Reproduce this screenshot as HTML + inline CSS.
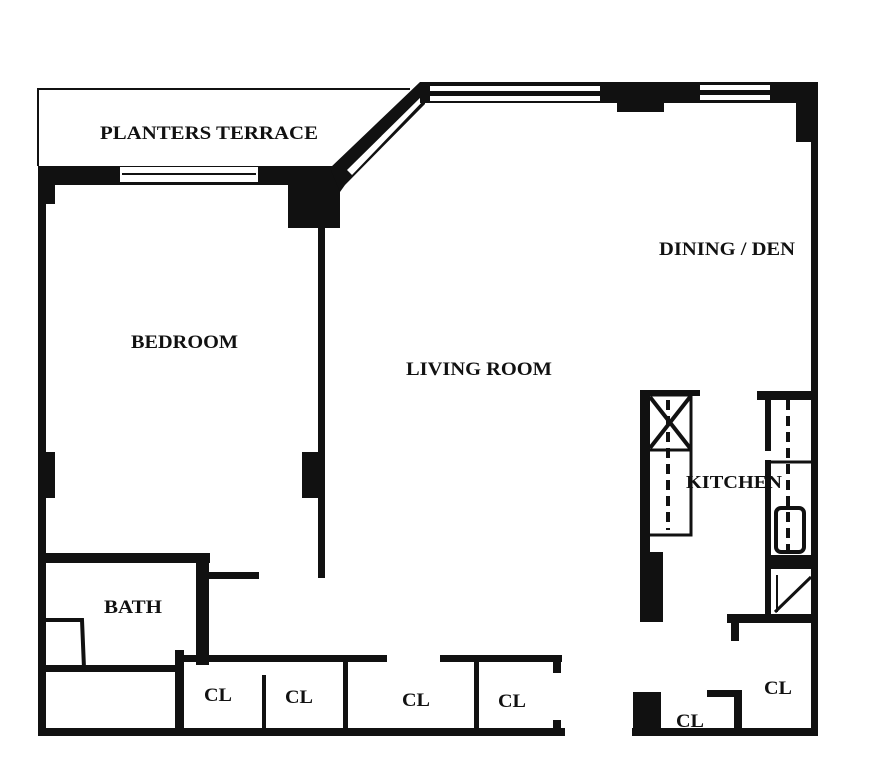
<!DOCTYPE html>
<html><head><style>html,body{margin:0;padding:0;background:#fff}svg{display:block}text{font-family:"Liberation Serif",serif;font-weight:bold;fill:#111}</style></head>
<body>
<svg width="886" height="768" viewBox="0 0 886 768">
<rect width="886" height="768" fill="#fff"/>
<polyline points="38,166 38,89 410,89" fill="none" stroke="#111" stroke-width="2"/>
<rect x="38" y="166" width="300" height="19" fill="#111"/>
<rect x="120" y="167" width="138" height="15" fill="#fff"/>
<line x1="122" y1="174" x2="256" y2="174" stroke="#111" stroke-width="2"/>
<rect x="38" y="166" width="17" height="38" fill="#111"/>
<rect x="288" y="170" width="52" height="58" fill="#111"/>
<rect x="318" y="225" width="7" height="353" fill="#111"/>
<polygon points="330,168 420,82 425,82 425,104 345,185 340,192" fill="#111"/>
<polygon points="347,170 425,93 425,99 352,175" fill="#fff"/>
<rect x="420" y="82" width="398" height="21" fill="#111"/>
<rect x="430" y="86" width="170" height="5" fill="#fff"/>
<rect x="430" y="96" width="170" height="5" fill="#fff"/>
<rect x="700" y="85" width="70" height="5" fill="#fff"/>
<rect x="700" y="95" width="70" height="5" fill="#fff"/>
<rect x="617" y="100" width="47" height="12" fill="#111"/>
<rect x="796" y="82" width="22" height="60" fill="#111"/>
<rect x="811" y="82" width="7" height="654" fill="#111"/>
<rect x="38" y="166" width="8" height="570" fill="#111"/>
<rect x="38" y="452" width="17" height="46" fill="#111"/>
<rect x="302" y="452" width="20" height="46" fill="#111"/>
<rect x="38" y="553" width="172" height="10" fill="#111"/>
<rect x="196" y="553" width="13" height="112" fill="#111"/>
<rect x="209" y="572" width="50" height="7" fill="#111"/>
<polyline points="46,620 82,620 84,668" fill="none" stroke="#111" stroke-width="4"/>
<rect x="46" y="665" width="135" height="7" fill="#111"/>
<rect x="175" y="650" width="9" height="86" fill="#111"/>
<rect x="175" y="655" width="212" height="7" fill="#111"/>
<rect x="440" y="655" width="122" height="7" fill="#111"/>
<rect x="262" y="675" width="4" height="60" fill="#111"/>
<rect x="343" y="660" width="5" height="75" fill="#111"/>
<rect x="474" y="660" width="5" height="75" fill="#111"/>
<rect x="553" y="655" width="8" height="18" fill="#111"/>
<rect x="553" y="720" width="8" height="16" fill="#111"/>
<rect x="38" y="728" width="527" height="8" fill="#111"/>
<rect x="640" y="390" width="10" height="232" fill="#111"/>
<rect x="640" y="552" width="23" height="70" fill="#111"/>
<rect x="640" y="390" width="60" height="6" fill="#111"/>
<rect x="648" y="395" width="43" height="140" fill="none" stroke="#111" stroke-width="3"/>
<line x1="648" y1="450" x2="691" y2="450" stroke="#111" stroke-width="3"/>
<line x1="650" y1="397" x2="690" y2="448" stroke="#111" stroke-width="4"/>
<line x1="690" y1="397" x2="650" y2="448" stroke="#111" stroke-width="4"/>
<line x1="668" y1="400" x2="668" y2="530" stroke="#111" stroke-width="4" stroke-dasharray="10,6"/>
<rect x="757" y="391" width="55" height="9" fill="#111"/>
<rect x="765" y="391" width="6" height="60" fill="#111"/>
<rect x="765" y="460" width="6" height="155" fill="#111"/>
<line x1="771" y1="462" x2="812" y2="462" stroke="#111" stroke-width="3"/>
<line x1="788" y1="400" x2="788" y2="550" stroke="#111" stroke-width="4" stroke-dasharray="10,6"/>
<rect x="776" y="508" width="28" height="44" rx="5" fill="none" stroke="#111" stroke-width="4"/>
<rect x="765" y="555" width="47" height="14" fill="#111"/>
<line x1="775" y1="612" x2="811" y2="577" stroke="#111" stroke-width="3"/>
<line x1="777" y1="575" x2="777" y2="612" stroke="#111" stroke-width="2"/>
<rect x="727" y="614" width="90" height="9" fill="#111"/>
<rect x="731" y="614" width="8" height="27" fill="#111"/>
<rect x="632" y="728" width="186" height="8" fill="#111"/>
<rect x="633" y="692" width="28" height="44" fill="#111"/>
<rect x="734" y="690" width="8" height="46" fill="#111"/>
<rect x="707" y="690" width="35" height="7" fill="#111"/>
<text x="100" y="139" font-size="19" textLength="218" lengthAdjust="spacingAndGlyphs">PLANTERS TERRACE</text>
<text x="131" y="348" font-size="19" textLength="107" lengthAdjust="spacingAndGlyphs">BEDROOM</text>
<text x="406" y="375" font-size="19" textLength="146" lengthAdjust="spacingAndGlyphs">LIVING ROOM</text>
<text x="659" y="255" font-size="19" textLength="136" lengthAdjust="spacingAndGlyphs">DINING / DEN</text>
<text x="686" y="488" font-size="18" textLength="96" lengthAdjust="spacingAndGlyphs">KITCHEN</text>
<text x="104" y="613" font-size="19" textLength="58" lengthAdjust="spacingAndGlyphs">BATH</text>
<text x="204" y="701" font-size="19" textLength="28" lengthAdjust="spacingAndGlyphs">CL</text>
<text x="285" y="703" font-size="19" textLength="28" lengthAdjust="spacingAndGlyphs">CL</text>
<text x="402" y="706" font-size="19" textLength="28" lengthAdjust="spacingAndGlyphs">CL</text>
<text x="498" y="707" font-size="19" textLength="28" lengthAdjust="spacingAndGlyphs">CL</text>
<text x="764" y="694" font-size="19" textLength="28" lengthAdjust="spacingAndGlyphs">CL</text>
<text x="676" y="727" font-size="19" textLength="28" lengthAdjust="spacingAndGlyphs">CL</text>
</svg>
</body></html>
